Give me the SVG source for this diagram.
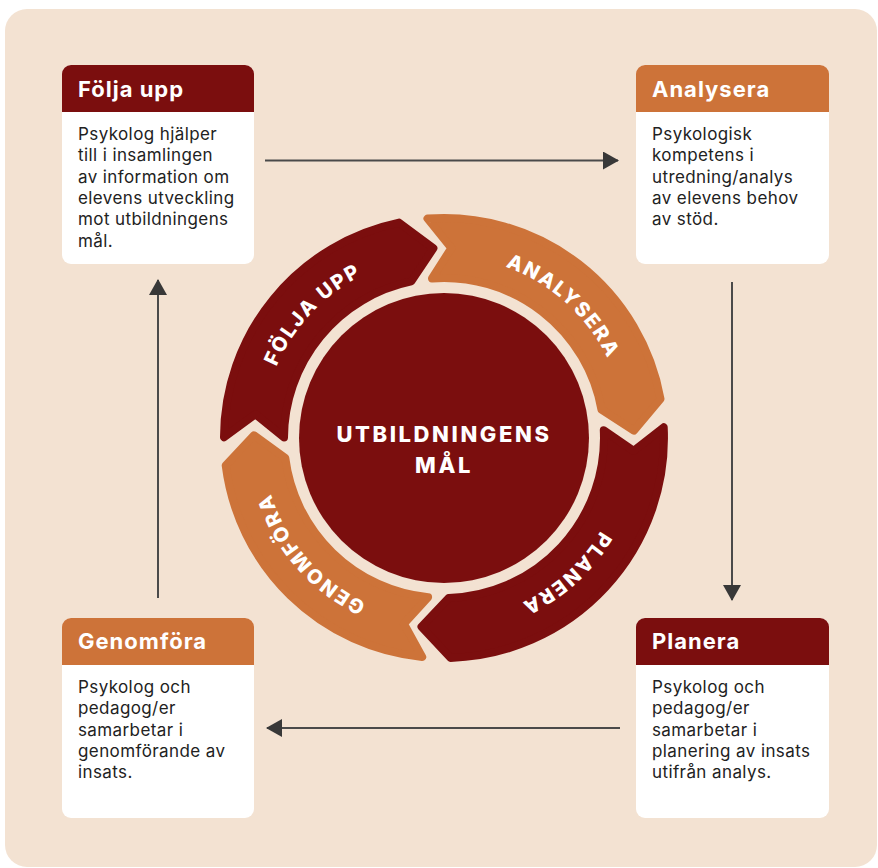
<svg xmlns="http://www.w3.org/2000/svg" width="878" height="868" viewBox="0 0 878 868">
<style>
.bg{fill:#f3e2d2}
.box{fill:#ffffff}
.dark{fill:#7b0e0e}
.orange{fill:#cd7339}
.seg-d{fill:#7b0e0e;stroke:#7b0e0e;stroke-width:8;stroke-linejoin:round}
.seg-o{fill:#cd7339;stroke:#cd7339;stroke-width:8;stroke-linejoin:round}
.hdr{font-family:Inter,"Liberation Sans",sans-serif;font-weight:700;font-size:22px;fill:#ffffff;letter-spacing:1px}
.body{font-family:Inter,"Liberation Sans",sans-serif;font-size:17px;fill:#222222;letter-spacing:0.4px}
.ring{font-family:Inter,"Liberation Sans",sans-serif;font-weight:800;font-size:20px;fill:#ffffff;letter-spacing:2px}
.center{font-family:Inter,"Liberation Sans",sans-serif;font-weight:800;font-size:22px;fill:#ffffff;letter-spacing:2.6px}
.conn{stroke:#4a4a4a;stroke-width:2;fill:none}
</style>
<defs>
<marker id="ah" viewBox="0 0 16 18" refX="15" refY="9" markerWidth="16" markerHeight="18" orient="auto" markerUnits="userSpaceOnUse">
<path d="M0,0 L16,9 L0,18 Z" fill="#383838"/>
</marker>
<path id="circ" d="M 626 438 A 182 182 0 1 1 262 438 A 182 182 0 1 1 626 438"/>
</defs>

<rect class="bg" x="5" y="9" width="872" height="858" rx="22"/>

<g id="connectors">
<line class="conn" x1="265" y1="160.5" x2="618" y2="160.5" marker-end="url(#ah)"/>
<line class="conn" x1="732" y1="282" x2="732" y2="600" marker-end="url(#ah)"/>
<line class="conn" x1="620" y1="728" x2="267" y2="728" marker-end="url(#ah)"/>
<line class="conn" x1="158" y1="598" x2="158" y2="280" marker-end="url(#ah)"/>
</g>

<g id="cycle">
<path class="seg-d" d="M 224.0 437.2 A 220 220 0 0 1 399.0 222.6 L 433.4 248.3 L 411.3 281.4 A 160 160 0 0 0 284.0 437.4 L 255.5 414.2 Z"/>
<path class="seg-o" d="M 427.5 218.6 A 220 220 0 0 1 660.5 399.0 L 633.9 430.7 L 601.5 409.7 A 160 160 0 0 0 432.0 278.5 L 451.3 248.1 Z"/>
<path class="seg-d" d="M 663.7 427.3 A 220 220 0 0 1 450.5 657.9 L 421.5 626.7 L 448.7 597.9 A 160 160 0 0 0 603.8 430.2 L 633.6 450.9 Z"/>
<path class="seg-o" d="M 422.2 656.9 A 220 220 0 0 1 225.7 465.6 L 254.0 435.3 L 285.3 458.0 A 160 160 0 0 0 428.1 597.2 L 403.9 623.7 Z"/>
<circle class="dark" cx="444" cy="438" r="145"/>
<text class="ring" text-anchor="middle"><textPath href="#circ" startOffset="62%">FÖLJA UPP</textPath></text>
<text class="ring" text-anchor="middle"><textPath href="#circ" startOffset="86.7%">ANALYSERA</textPath></text>
<text class="ring" text-anchor="middle"><textPath href="#circ" startOffset="13.3%">PLANERA</textPath></text>
<text class="ring" text-anchor="middle"><textPath href="#circ" startOffset="38.6%">GENOMFÖRA</textPath></text>
<text class="center" x="444" y="442" text-anchor="middle">UTBILDNINGENS</text>
<text class="center" x="444" y="473" text-anchor="middle">MÅL</text>
</g>

<g id="node-folja-upp">
<rect class="box" x="62" y="65" width="192" height="199" rx="9"/>
<path class="dark" d="M62,74 a9,9 0 0 1 9,-9 h174 a9,9 0 0 1 9,9 v38 h-192 Z"/>
<text class="hdr" x="78" y="97">Följa upp</text>
<text class="body">
<tspan x="78" y="140">Psykolog hjälper</tspan>
<tspan x="78" y="161.3">till i insamlingen</tspan>
<tspan x="78" y="182.6">av information om</tspan>
<tspan x="78" y="203.9">elevens utveckling</tspan>
<tspan x="78" y="225.2">mot utbildningens</tspan>
<tspan x="78" y="246.5">mål.</tspan>
</text>
</g>

<g id="node-analysera">
<rect class="box" x="636" y="65" width="193" height="199" rx="9"/>
<path class="orange" d="M636,74 a9,9 0 0 1 9,-9 h175 a9,9 0 0 1 9,9 v38 h-193 Z"/>
<text class="hdr" x="652" y="97">Analysera</text>
<text class="body">
<tspan x="652" y="140">Psykologisk</tspan>
<tspan x="652" y="161.3">kompetens i</tspan>
<tspan x="652" y="182.6">utredning/analys</tspan>
<tspan x="652" y="203.9">av elevens behov</tspan>
<tspan x="652" y="225.2">av stöd.</tspan>
</text>
</g>

<g id="node-genomfora">
<rect class="box" x="62" y="618" width="192" height="200" rx="9"/>
<path class="orange" d="M62,627 a9,9 0 0 1 9,-9 h174 a9,9 0 0 1 9,9 v38 h-192 Z"/>
<text class="hdr" x="78" y="649">Genomföra</text>
<text class="body">
<tspan x="78" y="693">Psykolog och</tspan>
<tspan x="78" y="714.3">pedagog/er</tspan>
<tspan x="78" y="735.6">samarbetar i</tspan>
<tspan x="78" y="756.9">genomförande av</tspan>
<tspan x="78" y="778.2">insats.</tspan>
</text>
</g>

<g id="node-planera">
<rect class="box" x="636" y="618" width="193" height="200" rx="9"/>
<path class="dark" d="M636,627 a9,9 0 0 1 9,-9 h175 a9,9 0 0 1 9,9 v38 h-193 Z"/>
<text class="hdr" x="652" y="649">Planera</text>
<text class="body">
<tspan x="652" y="693">Psykolog och</tspan>
<tspan x="652" y="714.3">pedagog/er</tspan>
<tspan x="652" y="735.6">samarbetar i</tspan>
<tspan x="652" y="756.9">planering av insats</tspan>
<tspan x="652" y="778.2">utifrån analys.</tspan>
</text>
</g>
</svg>
